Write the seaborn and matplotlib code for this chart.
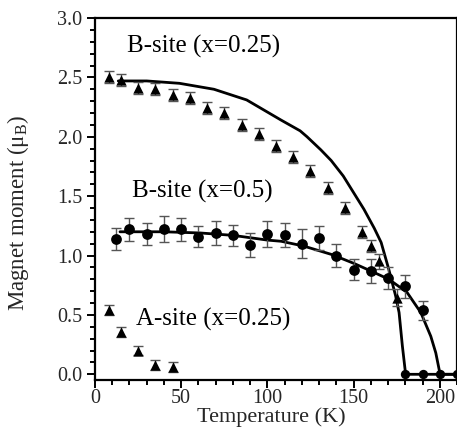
import matplotlib
matplotlib.use("Agg")
import matplotlib.pyplot as plt
from matplotlib.ticker import MultipleLocator
import seaborn as sns
import pandas as pd

# ---- data ----
b25_T = [8, 15, 25, 35, 45, 55, 65, 75, 85, 95, 105, 115, 125, 135, 145, 155, 160, 165, 175]
b25_M = [2.50, 2.48, 2.41, 2.40, 2.35, 2.33, 2.24, 2.20, 2.10, 2.02, 1.92, 1.83, 1.71, 1.57, 1.40, 1.20, 1.08, 0.95, 0.645]
b25_err = [0.05, 0.05, 0.05, 0.05, 0.05, 0.05, 0.05, 0.05, 0.05, 0.05, 0.05, 0.05, 0.05, 0.05, 0.05, 0.05, 0.05, 0.06, 0.07]

b05_T = [12, 20, 30, 40, 50, 60, 70, 80, 90, 100, 110, 120, 130, 140, 150, 160, 170, 180, 190]
b05_M = [1.14, 1.22, 1.18, 1.22, 1.22, 1.16, 1.19, 1.17, 1.09, 1.18, 1.17, 1.10, 1.15, 1.00, 0.88, 0.87, 0.81, 0.74, 0.54]
b05_err = [0.09, 0.10, 0.09, 0.11, 0.10, 0.09, 0.10, 0.09, 0.10, 0.11, 0.10, 0.12, 0.10, 0.10, 0.09, 0.10, 0.09, 0.10, 0.08]

a25_T = [8, 15, 25, 35, 45]
a25_M = [0.54, 0.355, 0.20, 0.078, 0.061]
a25_err = [0.04, 0.04, 0.04, 0.04, 0.04]

zero_T = [180, 190, 200, 210]
zero_M = [0.0, 0.0, 0.0, 0.0]

fit25_T = [13.5, 30, 49, 69, 88, 108, 119, 123, 131, 137, 144, 150, 156, 162, 166, 170.5, 174.4, 176.4, 178.3, 180.2, 210]
fit25_M = [2.47, 2.47, 2.45, 2.40, 2.31, 2.14, 2.05, 2.00, 1.89, 1.80, 1.67, 1.53, 1.39, 1.23, 1.11, 0.88, 0.66, 0.52, 0.24, 0.0, 0.0]

fit05_T = [14.5, 40, 61, 80, 100, 108, 121, 137, 140.5, 150, 160, 170.5, 181, 189, 194.8, 197.7, 200.2, 210]
fit05_M = [1.20, 1.20, 1.19, 1.17, 1.13, 1.12, 1.08, 1.01, 0.99, 0.935, 0.87, 0.80, 0.69, 0.52, 0.32, 0.18, 0.0, 0.0]

labels = ["B-site (x=0.25)", "B-site (x=0.5)", "A-site (x=0.25)"]
label_pos = [(18.6, 2.76), (21.3, 1.54), (23.8, 0.46)]
xticks = [0, 50, 100, 150, 200]
yticks = [0.0, 0.5, 1.0, 1.5, 2.0, 2.5, 3.0]

# ---- style ----
sns.set_style("ticks")
plt.rcParams["font.family"] = ["Liberation Serif", "DejaVu Serif"]
plt.rcParams["mathtext.fontset"] = "custom"
plt.rcParams["mathtext.rm"] = "Liberation Serif"
plt.rcParams["mathtext.it"] = "Liberation Serif:italic"

fig = plt.figure(figsize=(4.57, 4.45), dpi=100)
ax = fig.add_axes([95 / 457, 1 - 380 / 445, 362 / 457, 362 / 445])

# fit curves
sns.lineplot(x=fit25_T, y=fit25_M, ax=ax, color="black", lw=2.0, sort=False, estimator=None, zorder=2)
sns.lineplot(x=fit05_T, y=fit05_M, ax=ax, color="black", lw=2.0, sort=False, estimator=None, zorder=2)

# error bars
ebkw = dict(fmt="none", ecolor="#555555", elinewidth=1.0, capsize=3.3, capthick=1.0, zorder=3)
ax.errorbar(b25_T, b25_M, yerr=b25_err, **ebkw)
ax.errorbar(b05_T, b05_M, yerr=b05_err, **ebkw)
ax.errorbar(a25_T, a25_M, yerr=a25_err, **ebkw)

# markers
sns.scatterplot(x=b25_T, y=b25_M, ax=ax, marker="^", s=55, color="black", edgecolor="black", linewidth=0, zorder=4)
sns.scatterplot(x=a25_T, y=a25_M, ax=ax, marker="^", s=55, color="black", edgecolor="black", linewidth=0, zorder=4)
sns.scatterplot(x=b05_T, y=b05_M, ax=ax, marker="o", s=60, color="black", edgecolor="black", linewidth=0, zorder=4)
sns.scatterplot(x=zero_T, y=zero_M, ax=ax, marker="o", s=45, color="black", edgecolor="black", linewidth=0, zorder=4, clip_on=False)

for txt, (tx, ty) in zip(labels, label_pos):
    ax.text(tx, ty, txt, fontsize=18, ha="left", va="center", color="black")

ax.set_xlim(0, 210)
ax.set_ylim(-0.048, 3.0)
ax.set_xticks(xticks)
ax.set_yticks(yticks)
ax.set_xticklabels([str(v) for v in xticks])
ax.set_yticklabels([f"{v:.1f}" for v in yticks])
ax.xaxis.set_minor_locator(MultipleLocator(10))
ax.yaxis.set_minor_locator(MultipleLocator(0.1))
ax.tick_params(which="major", direction="out", length=6, width=1.4, labelsize=14.5, pad=3, color="black")
ax.tick_params(which="minor", direction="out", length=3.5, width=1.4, color="black")
ax.tick_params(axis="x", which="major", pad=0.5)
ax.tick_params(top=False, right=False, which="both")

for side in ["left", "bottom", "top", "right"]:
    ax.spines[side].set_linewidth(1.6)
    ax.spines[side].set_color("black")

ax.set_xlabel("Temperature (K)", fontsize=16)
ax.set_ylabel("Magnet moment (\u03bc$_{\\rm B}$)", fontsize=16.5)
ax.xaxis.set_label_coords(0.4876, -0.076)
ax.yaxis.set_label_coords(-0.178, 0.463)
ax.xaxis.label.set_va("top")

fig.savefig("out.png", dpi=100)
